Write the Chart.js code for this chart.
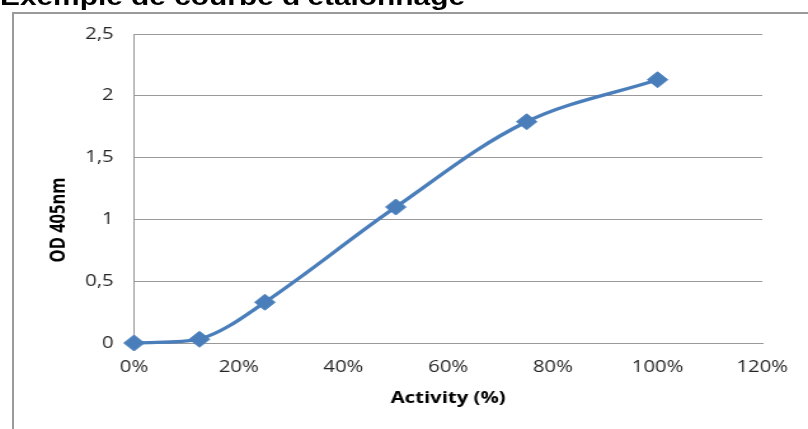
<!DOCTYPE html>
<html><head><meta charset="utf-8">
<script src="https://cdn.jsdelivr.net/npm/chart.js@4/dist/chart.umd.min.js"></script>
<style>
html,body{margin:0;padding:0;background:#fff;overflow:hidden;width:808px;height:429px;}
#frame{position:absolute;left:12px;top:12px;width:900px;height:500px;border-left:2px solid #9a9a9a;border-top:2px solid #9a9a9a;}
#wrap{position:absolute;left:0;top:0;width:636px;height:429px;transform:scaleX(1.2704);transform-origin:0 0;}
#title{position:absolute;left:0;top:-14.6px;font:bold 23.5px "Liberation Sans",Arial,sans-serif;line-height:24px;white-space:nowrap;color:#000;}
canvas{position:absolute;left:0;top:0;}
</style></head>
<body>
<div id="frame"></div>
<div id="wrap"><div id="title">Exemple de courbe d'étalonnage</div><canvas id="c" width="636" height="429"></canvas></div>
<script>
// Data
const activityValues = [0, 0.125, 0.25, 0.5, 0.75, 1.0];   // fraction of activity (0%..100%)
const odValues = [0, 0.03, 0.33, 1.10, 1.79, 2.13];        // OD 405nm
const xTickLabels = ['0%', '20%', '40%', '60%', '80%', '100%', '120%'];
const yTickLabels = ['0', '0,5', '1', '1,5', '2', '2,5'];
const chartTitle = "Exemple de courbe d'étalonnage";
const xTitle = 'Activity (%)';
const yTitle = 'OD 405nm';

const yTitlePlugin = {
  id: 'yTitle',
  afterDraw(chart) {
    const ctx = chart.ctx;
    ctx.save();
    ctx.translate(46, 220);
    ctx.rotate(-Math.PI / 2);
    ctx.font = 'bold 16.5px "Open Sans"';
    ctx.fillStyle = '#000';
    ctx.textAlign = 'center';
    ctx.textBaseline = 'middle';
    ctx.fillText(yTitle, 0, 0);
    ctx.restore();
  }
};

const points = activityValues.map((x, i) => ({ x: x, y: odValues[i] }));

new Chart(document.getElementById('c'), {
  type: 'line',
  data: {
    datasets: [{
      data: points,
      borderColor: '#4a7ebb',
      backgroundColor: '#4a7ebb',
      borderWidth: 3.3,
      pointStyle: 'rectRot',
      pointRadius: 8,
      pointBorderWidth: 1,
      pointBorderColor: '#4a7ebb',
      pointBackgroundColor: '#4a7ebb',
      tension: 0.35,
      fill: false,
      clip: false
    }]
  },
  options: {
    responsive: false,
    animation: false,
    devicePixelRatio: 1,
    layout: { padding: { top: 34, right: 36, bottom: 0, left: 0 } },
    plugins: { legend: { display: false }, tooltip: { enabled: false }, title: { display: false } },
    scales: {
      x: {
        type: 'linear', min: 0, max: 1.2,
        ticks: {
          stepSize: 0.2,
          callback: (v) => xTickLabels[Math.round(v / 0.2)],
          font: { family: 'Open Sans', size: 16 },
          color: '#262626', padding: 15, maxRotation: 0
        },
        grid: { display: false, drawTicks: false },
        border: { display: true, color: '#999', width: 1 },
        title: {
          display: true, text: xTitle,
          font: { family: 'Open Sans', size: 16, weight: 'bold' },
          color: '#000', padding: { top: 0, bottom: 21 }
        },
        afterFit(s) { s.height = 86; }
      },
      y: {
        min: 0, max: 2.5,
        ticks: {
          stepSize: 0.5,
          callback: (v) => yTickLabels[Math.round(v / 0.5)],
          font: { family: 'Open Sans', size: 16 },
          color: '#262626', padding: 16
        },
        grid: { color: '#999', drawTicks: false },
        border: { display: true, color: '#999', width: 1 },
        afterFit(s) { s.width = 105.5; }
      }
    }
  },
  plugins: [yTitlePlugin]
});
</script>
</body></html>
